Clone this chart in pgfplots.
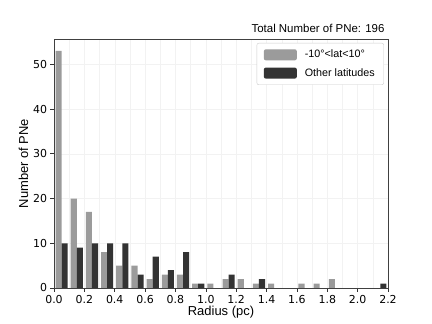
\documentclass[border=0pt]{standalone}
\usepackage{pgfplots}
\pgfplotsset{compat=1.18}
\usepackage{fontspec}
\setmainfont{Liberation Sans}
\newfontfamily\dejavu{DejaVu Sans}
\definecolor{lowlat}{HTML}{9B9B9B}
\definecolor{highlat}{HTML}{333333}

\begin{document}
\begin{tikzpicture}
\begin{axis}[
    name=ax,
    scale only axis,
    width=334bp, height=249bp,
    xmin=0, xmax=2.2,
    ymin=0, ymax=55.65,
    xtick={0,0.2,...,2.21},
    minor xtick={0.1,0.3,...,2.15},
    ytick={0,10,20,30,40,50},
    xticklabels={0.0,0.2,0.4,0.6,0.8,1.0,1.2,1.4,1.6,1.8,2.0,2.2},
    /pgf/number format/assume math mode=true,
    tick label style={font=\dejavu\fontsize{11}{13}\selectfont, color=black},
    tick align=outside,
    xtick pos=bottom, ytick pos=left,
    major tick length=3.5bp,
    minor tick length=0pt,
    tick style={black!80, line width=0.6pt},
    axis line style={black!75, line width=0.8pt},
    grid=both,
    major grid style={black!5, line width=0.4pt},
    minor grid style={black!5, line width=0.4pt},
    xlabel={Radius (pc)},
    ylabel={Number of PNe},
    label style={font=\fontsize{13}{15}\selectfont},
    xlabel style={yshift=4bp},
    ylabel style={yshift=-2bp},
    title={Total Number of PNe: 196},
    title style={at={(1,1)}, anchor=south east, font=\fontsize{11.5}{13}\selectfont, yshift=-3bp},
    legend style={at={(0.988,0.984)}, anchor=north east, draw=black!20,
        rounded corners=2pt, font=\fontsize{10.8}{13}\selectfont,
        row sep=5bp, inner xsep=7bp, inner ysep=5bp,
        /tikz/every odd column/.append style={column sep=6bp}},
    legend cell align=left,
]
\addplot[ybar, bar width=0.04, bar shift=0pt, fill=lowlat, draw=none,
    legend image code/.code={\fill[lowlat] (0bp,-5.5bp) rectangle (33bp,5.5bp);}]
coordinates {
(0.03,53) (0.13,20) (0.23,17) (0.33,8) (0.43,5) (0.53,5) (0.63,2) (0.73,3) (0.83,3)
(0.93,1) (1.03,1) (1.13,2) (1.23,2) (1.33,1) (1.43,1) (1.63,1) (1.73,1) (1.83,2)
};
\addlegendentry{-10°<lat<10°}
\addplot[ybar, bar width=0.04, bar shift=0pt, fill=highlat, draw=none,
    legend image code/.code={\fill[highlat] (0bp,-5.5bp) rectangle (33bp,5.5bp);}]
coordinates {
(0.07,10) (0.17,9) (0.27,10) (0.37,10) (0.47,10) (0.57,3) (0.67,7) (0.77,4) (0.87,8)
(0.97,1) (1.17,3) (1.37,2) (2.17,1)
};
\addlegendentry{Other latitudes}
\end{axis}
\path ([xshift=-54bp,yshift=-36bp]ax.south west) rectangle ([xshift=44bp,yshift=39bp]ax.north east);
\end{tikzpicture}
\end{document}
